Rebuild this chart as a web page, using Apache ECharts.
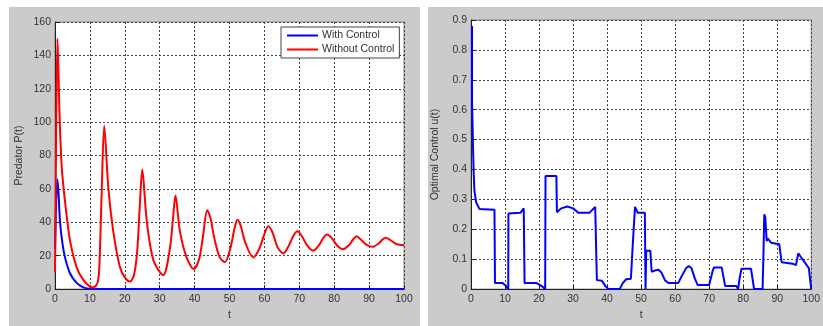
<!DOCTYPE html>
<html>
<head>
<meta charset="utf-8">
<script src="https://cdn.jsdelivr.net/npm/echarts@6/dist/echarts.min.js"></script>
<style>
  html, body { margin: 0; padding: 0; background: #fff; }
  #chart { width: 823px; height: 326px; }
</style>
</head>
<body>
<div id="chart"></div>
<script>
// left panel: predator P(t)
const tWithout = [0, 0.15, 0.35, 0.7, 1.0, 1.25, 1.9, 2.9, 4.3, 6.2, 8.1, 10, 11, 12.2, 12.7, 13.4, 14.1, 15.3, 16.7, 18.6, 20, 21.5, 22.7, 23.6, 24.3, 25, 26.3, 28.2, 31, 32.9, 33.8, 34.5, 35.8, 37.7, 39.8, 41.3, 42.5, 43.6, 44.5, 45.7, 47.2, 48.7, 50.2, 51.4, 52.3, 53.2, 54.5, 56.8, 58.5, 60, 61.1, 62.3, 63.8, 65.4, 67, 68.3, 69.5, 70.8, 72.3, 74, 75.7, 77, 78, 79.3, 80.9, 82.6, 84.3, 85.5, 86.4, 87.7, 89.3, 91, 92.8, 94, 94.8, 96, 97.8, 100];
const pWithout = [10, 40, 100, 150, 130, 108, 74, 52, 29, 13, 5.5, 1.5, 1, 4, 13, 60, 97.9, 60, 34.6, 13.2, 7, 4.5, 9, 24, 50, 71.6, 40.5, 17.2, 8.4, 24, 42, 56, 34.6, 19, 12, 18, 33, 47.3, 43, 30, 19, 16.2, 24, 36, 41.5, 38, 28, 19, 24, 33, 37.6, 34, 25, 21.4, 26, 32, 34.7, 31.5, 26, 23, 26.5, 31, 32.7, 30.5, 26, 23.9, 26.5, 30, 31.7, 29.5, 26.5, 25.3, 27.5, 30, 30.8, 29.5, 27, 26.3];

const tWith = [0, 0.3, 0.67, 1.0, 1.43, 2.1, 2.87, 4.3, 6.2, 8.1, 9.7, 12, 20, 40, 60, 80, 100];
const pWith = [24, 50, 65.8, 58, 40.5, 28, 19, 9.5, 3.7, 1, 0.2, 0, 0, 0, 0, 0, 0];

// right panel: optimal control u(t)
const tU = [0.3, 0.3, 0.75, 0.75, 1.0, 1.5, 2.5, 6.9, 7.05, 9.3, 10.3, 10.95, 11.0, 14.5, 15.5, 15.75, 19.3, 21, 21.8, 21.9, 25.1, 25.25, 26.5, 28.3, 30, 31.6, 34.8, 36.5, 36.9, 37.0, 38.5, 39.5, 40.4, 43.7, 44.6, 45.6, 47, 47.5, 47.6, 48.2, 49, 51.1, 51.3, 51.5, 52.7, 53.1, 54, 55.1, 56, 57, 58, 60.9, 62, 63.2, 64, 64.8, 65.8, 66.6, 70, 71, 71.4, 73.7, 74.7, 78, 78.5, 79, 79.5, 82.3, 83.2, 85.7, 86, 86.2, 86.5, 86.9, 87.2, 88.2, 90.6, 91.3, 94.5, 95.5, 96.2, 97.4, 99.3, 100];
const uVal = [0.88, 0.625, 0.625, 0.4, 0.33, 0.29, 0.268, 0.265, 0.02, 0.02, 0.01, 0, 0.253, 0.255, 0.27, 0.02, 0.02, 0.008, 0, 0.378, 0.378, 0.257, 0.27, 0.276, 0.27, 0.255, 0.255, 0.275, 0.278, 0.03, 0.028, 0.01, 0, 0, 0.02, 0.033, 0.035, 0.04, 0.16, 0.275, 0.255, 0.255, 0, 0.128, 0.128, 0.058, 0.062, 0.065, 0.055, 0.03, 0.02, 0.02, 0.045, 0.07, 0.077, 0.07, 0.035, 0.014, 0.014, 0.06, 0.072, 0.072, 0.01, 0.01, 0, 0.04, 0.068, 0.068, 0, 0, 0.14, 0.25, 0.24, 0.16, 0.17, 0.155, 0.15, 0.09, 0.085, 0.08, 0.12, 0.1, 0.07, 0];

const pairs = (xs, ys) => xs.map((x, i) => [x, ys[i]]);

const font = 'Liberation Sans';
const labelStyle = { color: '#333', fontSize: 10.5, fontFamily: font };
const dotted = { show: true, lineStyle: { color: '#444', type: [2, 2], width: 1 } };

function xAxisOf(idx) {
  return {
    gridIndex: idx, type: 'value', min: 0, max: 100, interval: 10,
    name: 't', nameLocation: 'middle', nameGap: 17,
    nameTextStyle: labelStyle,
    axisLine: { lineStyle: { color: '#222' } },
    axisTick: { inside: true, length: 4, lineStyle: { color: '#222' } },
    axisLabel: Object.assign({ margin: 5 }, labelStyle),
    splitLine: dotted
  };
}

let chart = echarts.init(document.getElementById('chart'));
let option = {
  animation: false,
  graphic: [
    { type: 'rect', z: -10, shape: { x: 9, y: 7, width: 411, height: 319 }, style: { fill: '#cbcbcb' } },
    { type: 'rect', z: -10, shape: { x: 428, y: 7, width: 395, height: 319 }, style: { fill: '#cbcbcb' } }
  ],
  grid: [
    { left: 55, top: 22, width: 349, height: 274, show: true, backgroundColor: '#fff', borderColor: '#888', borderWidth: 1 },
    { left: 471, top: 20, width: 349, height: 276, show: true, backgroundColor: '#fff', borderColor: '#888', borderWidth: 1 }
  ],
  legend: {
    data: ['With Control', 'Without Control'],
    orient: 'vertical', left: 281, top: 27,
    backgroundColor: '#fff', borderColor: '#444', borderWidth: 1,
    padding: [3, 5, 3, 6], itemGap: 3, itemWidth: 31, itemHeight: 2,
    icon: 'rect',
    textStyle: { color: '#333', fontSize: 10.5, fontFamily: font, padding: [0, 0, 0, -1] }
  },
  xAxis: [xAxisOf(0), xAxisOf(1)],
  yAxis: [
    {
      gridIndex: 0, type: 'value', min: 0, max: 160, interval: 20,
      name: 'Predator P(t)', nameLocation: 'middle', nameGap: 30,
      nameTextStyle: labelStyle,
      axisLine: { show: true, lineStyle: { color: '#222' } },
      axisTick: { show: true, inside: true, length: 4, lineStyle: { color: '#222' } },
      axisLabel: Object.assign({ margin: 4 }, labelStyle),
      splitLine: dotted
    },
    {
      gridIndex: 1, type: 'value', min: 0, max: 0.9, interval: 0.1,
      name: 'Optimal Control u(t)', nameLocation: 'middle', nameGap: 30,
      nameTextStyle: labelStyle,
      axisLine: { show: true, lineStyle: { color: '#222' } },
      axisTick: { show: true, inside: true, length: 4, lineStyle: { color: '#222' } },
      axisLabel: Object.assign({ margin: 4 }, labelStyle),
      splitLine: dotted
    }
  ],
  series: [
    {
      name: 'With Control', type: 'line', xAxisIndex: 0, yAxisIndex: 0,
      showSymbol: false, smooth: 0.3, color: '#0000ff',
      lineStyle: { width: 2, color: '#0000ff' },
      data: pairs(tWith, pWith)
    },
    {
      name: 'Without Control', type: 'line', xAxisIndex: 0, yAxisIndex: 0,
      showSymbol: false, smooth: 0.3, color: '#ff0000',
      lineStyle: { width: 2, color: '#ff0000' },
      data: pairs(tWithout, pWithout)
    },
    {
      name: 'u', type: 'line', xAxisIndex: 1, yAxisIndex: 1,
      showSymbol: false, color: '#0000ff',
      lineStyle: { width: 2, color: '#0000ff' },
      data: pairs(tU, uVal)
    }
  ]
};
chart.setOption(option);
</script>
</body>
</html>
